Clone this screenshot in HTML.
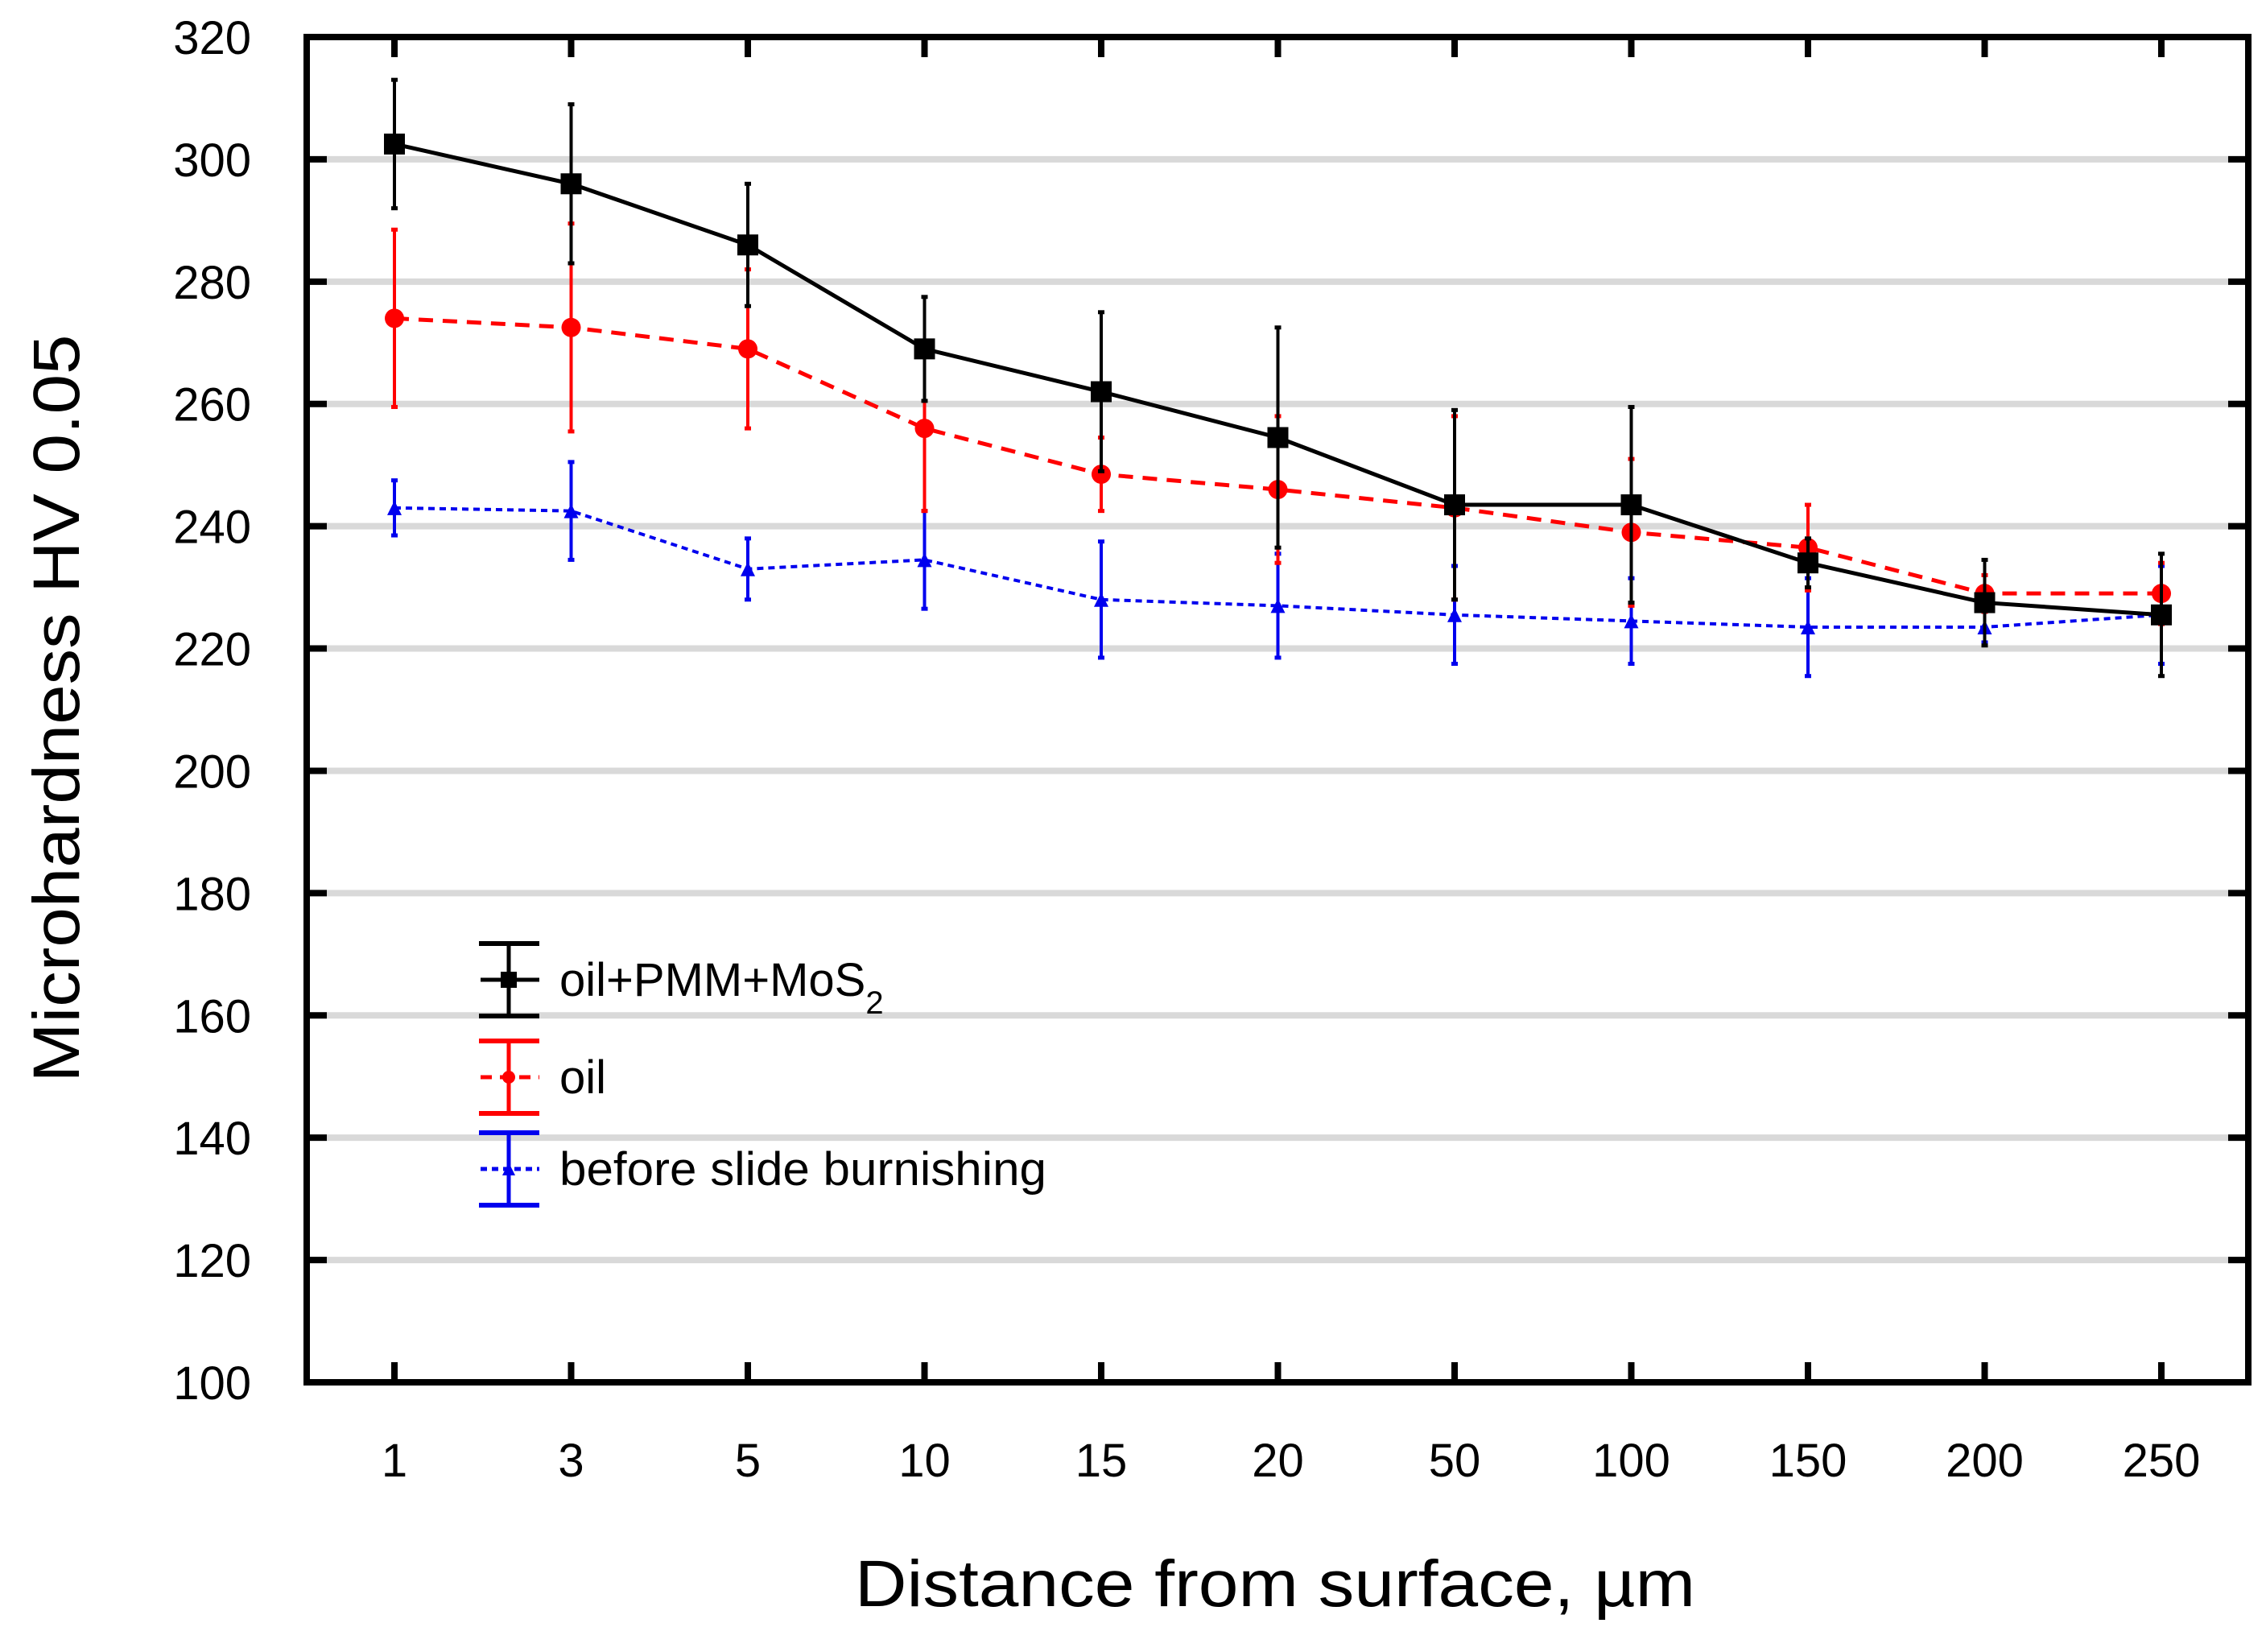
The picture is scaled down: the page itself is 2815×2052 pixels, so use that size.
<!DOCTYPE html>
<html><head><meta charset="utf-8"><style>
html,body{margin:0;padding:0;background:#fff;}
svg text{font-family:"Liberation Sans",Arial,sans-serif;}
</style></head><body>
<svg id="chart" width="2815" height="2047" viewBox="0 0 2815 2047" xmlns="http://www.w3.org/2000/svg">
<rect width="2815" height="2047" fill="#fff"/>
<g id="grid"></g>
<g id="series"></g>
<g id="axes"></g>
<text x="0" y="0" transform="translate(98,880) rotate(-90)" text-anchor="middle" font-size="82" textLength="929" lengthAdjust="spacingAndGlyphs">Microhardness HV 0.05</text>
<text x="1584" y="1995" text-anchor="middle" font-size="82" textLength="1044" lengthAdjust="spacingAndGlyphs">Distance from surface, µm</text>
<g id="legend"></g>
</svg>
<script>
const categories = ["1","3","5","10","15","20","50","100","150","200","250"];
const yTicks = [100,120,140,160,180,200,220,240,260,280,300,320];
const blackVals = [302.5,296,286,269,262,254.5,243.5,243.5,234,227.5,225.5];
const blackErr  = [10.5,13,10,8.5,13,18,15.5,16,4,7,10];
const redVals = [274,272.5,269,256,248.5,246,243,239,236.5,229,229];
const redErr  = [14.5,17,13,13.5,6,12,15,12,7,3,5];
const blueVals = [243,242.5,233,234.5,228,227,225.5,224.5,223.5,223.5,225.5];
const blueErr  = [4.5,8,5,8,9.5,8.5,8,7,8,2.5,8];
const legendLabels = ["oil+PMM+MoS","oil","before slide burnishing"];

const NS="http://www.w3.org/2000/svg";
const L=381,R=2793,T=46,B=1717;
const x0=490,dx=219.5;
function xs(i){return x0+i*dx;}
function ys(v){return B-(v-100)/220*(B-T);}
function mk(tag,attrs,parent){const e=document.createElementNS(NS,tag);for(const k in attrs)e.setAttribute(k,attrs[k]);parent.appendChild(e);return e;}
const grid=document.getElementById('grid'),axes=document.getElementById('axes'),ser=document.getElementById('series'),leg=document.getElementById('legend');

yTicks.forEach(v=>{
  if(v>100&&v<320){
    const g=mk('line',{x1:L,x2:R,y1:ys(v),y2:ys(v),stroke:'#d9d9d9','stroke-width':8},grid);
    
    
    const t1=mk('line',{x1:L,x2:L+25,y1:ys(v),y2:ys(v),stroke:'#000','stroke-width':8},axes);
    
    
    const t2=mk('line',{x1:R-25,x2:R,y1:ys(v),y2:ys(v),stroke:'#000','stroke-width':8},axes);
    
    
  }
  const t=mk('text',{x:312,y:ys(v)+21,'text-anchor':'end','font-size':58},axes);
  t.textContent=v;
  
  
});
categories.forEach((c,i)=>{
  const a=mk('line',{x1:xs(i),x2:xs(i),y1:B,y2:B-25,stroke:'#000','stroke-width':8},axes);
  
  
  const b=mk('line',{x1:xs(i),x2:xs(i),y1:T,y2:T+25,stroke:'#000','stroke-width':8},axes);
  
  
  const t=mk('text',{x:xs(i),y:1834,'text-anchor':'middle','font-size':58},axes);
  t.textContent=c;
  
  
});
const frame=mk('rect',{x:L,y:T,width:R-L,height:B-T,fill:'none',stroke:'#000','stroke-width':8},axes);



function series(name,vals,errs,color,dash,width,marker,size){
  const g=mk('g',{},ser);
  
  
  vals.forEach((v,i)=>{
    const e=mk('line',{x1:xs(i),x2:xs(i),y1:ys(v+errs[i]),y2:ys(v-errs[i]),stroke:color,'stroke-width':4},g);
    
    
    [v+errs[i],v-errs[i]].forEach(w=>{
      const c=mk('line',{x1:xs(i)-4,x2:xs(i)+4,y1:ys(w),y2:ys(w),stroke:color,'stroke-width':5},g);
      
      
    });
  });
  const p=mk('polyline',{points:vals.map((v,i)=>xs(i)+','+ys(v)).join(' '),fill:'none',stroke:color,'stroke-width':width,'stroke-dasharray':dash},g);
  
  
  vals.forEach((v,i)=>{
    const m=drawMarker(g,marker,xs(i),ys(v),size,color);
    
    
  });
}
function drawMarker(g,marker,x,y,s,color){
  if(marker==='square')return mk('rect',{x:x-s/2,y:y-s/2,width:s,height:s,fill:color},g);
  if(marker==='circle')return mk('circle',{cx:x,cy:y,r:s/2,fill:color},g);
  return mk('polygon',{points:`${x},${y-s/2} ${x+s/2},${y+s/2} ${x-s/2},${y+s/2}`,fill:color},g);
}
series('before-burnishing',blueVals,blueErr,'#0000ee','8 6',4,'tri',18);
series('oil',redVals,redErr,'#ff0000','18 12',5,'circle',24);
series('oil-pmm-mos2',blackVals,blackErr,'#000','none',5,'square',26);

const legColors=['#000','#ff0000','#0000ee'],legDash=['none','14 10','8 6'],legMk=['square','circle','tri'],legY=[1217,1338,1452];
legendLabels.forEach((lab,i)=>{
  const g=mk('g',{},leg);
  
  
  const c=legColors[i],y=legY[i];
  mk('line',{x1:632,x2:632,y1:y-45,y2:y+45,stroke:c,'stroke-width':5},g);
  mk('line',{x1:595,x2:670,y1:y-45,y2:y-45,stroke:c,'stroke-width':6},g);
  mk('line',{x1:595,x2:670,y1:y+45,y2:y+45,stroke:c,'stroke-width':6},g);
  mk('line',{x1:597,x2:670,y1:y,y2:y,stroke:c,'stroke-width':5,'stroke-dasharray':legDash[i]},g);
  drawMarker(g,legMk[i],632,y,i===0?20:16,c);
  const attrs={x:695,y:y+20,'font-size':58};
  if(i===2){attrs.textLength=605;attrs.lengthAdjust='spacingAndGlyphs';}
  const t=mk('text',attrs,g);
  t.textContent=lab;
  if(i===0){const s=mk('tspan',{dy:22,'font-size':40},t);s.textContent='2';}
});
</script>
</body></html>
